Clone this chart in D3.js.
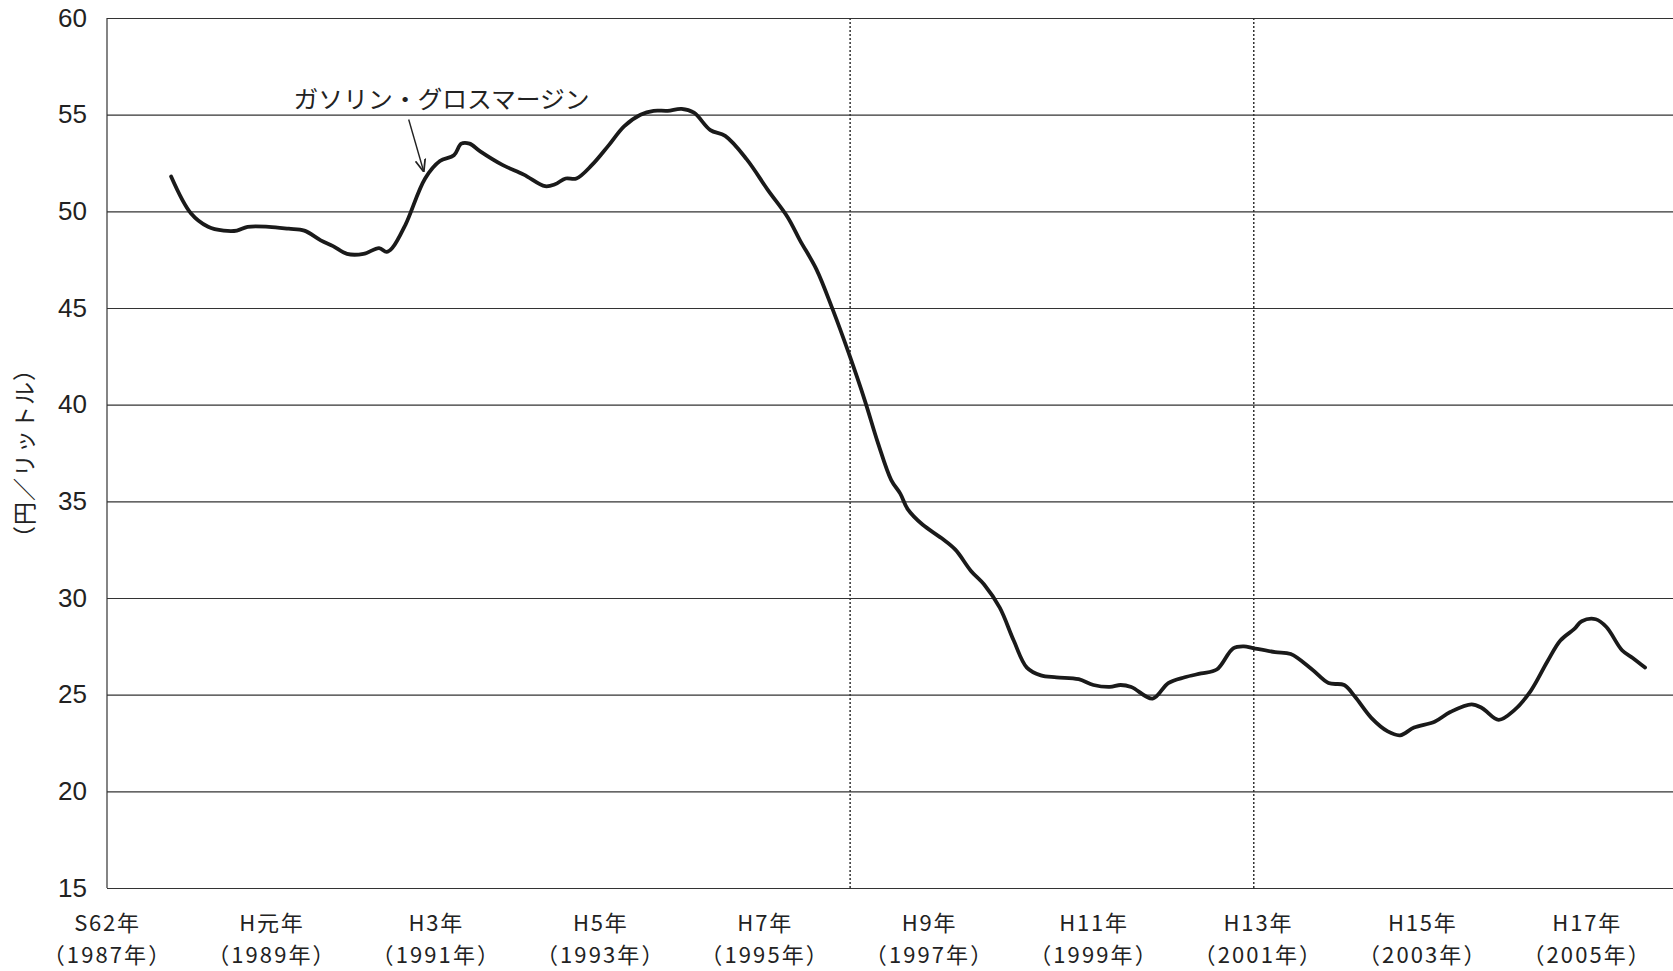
<!DOCTYPE html>
<html>
<head>
<meta charset="utf-8">
<script src="https://cdn.jsdelivr.net/npm/d3@7"></script>
<style>
  body { margin: 0; background: #fff; }
  svg { display: block; }
</style>
</head>
<body>
<div id="chart"></div>
<script>
// gasoline gross margin (fractional year, yen/litre)
const years = [1987.78, 1988.02, 1988.23, 1988.42, 1988.58, 1988.71, 1988.97, 1989.21, 1989.40, 1989.60,
  1989.75, 1989.92, 1990.12, 1990.31, 1990.40, 1990.47, 1990.63, 1990.87, 1991.05, 1991.22,
  1991.31, 1991.41, 1991.54, 1991.81, 1992.07, 1992.33, 1992.45, 1992.58, 1992.71, 1992.90,
  1993.10, 1993.29, 1993.49, 1993.65, 1993.82, 1993.99, 1994.14, 1994.34, 1994.52, 1994.78,
  1995.04, 1995.28, 1995.43, 1995.63, 1995.83, 1996.02, 1996.22, 1996.38, 1996.54, 1996.65,
  1996.74, 1996.92, 1997.15, 1997.32, 1997.51, 1997.67, 1997.86, 1998.03, 1998.19, 1998.36,
  1998.55, 1998.82, 1999.00, 1999.20, 1999.33, 1999.46, 1999.72, 1999.91, 2000.11, 2000.31,
  2000.50, 2000.70, 2000.83, 2000.95, 2001.21, 2001.40, 2001.66, 2001.86, 2002.05, 2002.18,
  2002.38, 2002.58, 2002.73, 2002.90, 2003.15, 2003.34, 2003.60, 2003.73, 2003.93, 2004.12,
  2004.32, 2004.52, 2004.68, 2004.85, 2004.94, 2005.11, 2005.24, 2005.43, 2005.56, 2005.71];
const margin = [51.8, 49.9, 49.2, 49.0, 49.0, 49.2, 49.2, 49.1, 49.0, 48.5,
  48.2, 47.8, 47.8, 48.1, 47.9, 48.1, 49.3, 51.7, 52.6, 52.9,
  53.5, 53.5, 53.1, 52.4, 51.9, 51.3, 51.4, 51.7, 51.7, 52.4,
  53.4, 54.4, 55.0, 55.2, 55.2, 55.3, 55.1, 54.2, 53.9, 52.7,
  51.1, 49.7, 48.5, 47.0, 44.9, 42.7, 40.2, 38.0, 36.1, 35.4,
  34.6, 33.8, 33.1, 32.5, 31.4, 30.7, 29.5, 27.8, 26.4, 26.0,
  25.9, 25.8, 25.5, 25.4, 25.5, 25.4, 24.8, 25.6, 25.9, 26.1,
  26.3, 27.4, 27.5, 27.4, 27.2, 27.1, 26.3, 25.6, 25.5, 24.9,
  23.8, 23.1, 22.9, 23.3, 23.6, 24.1, 24.5, 24.3, 23.7, 24.2,
  25.2, 26.7, 27.8, 28.4, 28.8, 28.9, 28.5, 27.3, 26.9, 26.4];

const yTicks = [15, 20, 25, 30, 35, 40, 45, 50, 55, 60];
const xTicks = [1987, 1989, 1991, 1993, 1995, 1997, 1999, 2001, 2003, 2005];
const xLabelEra = ["S62年", "H元年", "H3年", "H5年", "H7年", "H9年", "H11年", "H13年", "H15年", "H17年"];
const xLabelYear = ["（1987年）", "（1989年）", "（1991年）", "（1993年）", "（1995年）",
  "（1997年）", "（1999年）", "（2001年）", "（2003年）", "（2005年）"];
const markerYears = [1996.04, 2000.95];

const seriesLabel = "ガソリン・グロスマージン";
const labelAt = [1989.27, 55.7];
const arrowFrom = [1990.67, 54.75];
const arrowTo = [1990.85, 52.1];
const yTitle = "（円／リットル）";

const W = 1673, H = 971;
const m = {top: 18, right: 0, bottom: 83, left: 107};

const svg = d3.select("#chart").append("svg")
  .attr("width", W)
  .attr("height", H);

const x = d3.scaleLinear().domain([1987, 2006.05]).range([m.left, W - m.right]);
const y = d3.scaleLinear().domain([15, 60]).range([H - m.bottom, m.top]);

// horizontal grid + y labels
const yAxis = svg.append("g")
  .attr("transform", `translate(${m.left},0)`)
  .call(d3.axisLeft(y).tickValues(yTicks).tickSize(-(W - m.left - m.right)).tickPadding(20));
yAxis.select(".domain").remove();
yAxis.selectAll(".tick line").attr("stroke", "#333").attr("stroke-width", 1.2);
yAxis.selectAll(".tick text")
  .attr("fill", "#222")
  .style("font-family", "'Liberation Sans', Arial, sans-serif")
  .style("font-size", "26px");

// left frame
svg.append("line")
  .attr("x1", x(1987)).attr("x2", x(1987))
  .attr("y1", y(60)).attr("y2", y(15))
  .attr("stroke", "#333").attr("stroke-width", 1.2);

// dotted period markers
svg.selectAll(".marker").data(markerYears).join("line")
  .attr("class", "marker")
  .attr("x1", d => x(d)).attr("x2", d => x(d))
  .attr("y1", y(60)).attr("y2", y(15))
  .attr("stroke", "#333")
  .attr("stroke-width", 1.5)
  .attr("stroke-dasharray", "2,2");

// x labels, two lines each
const xAxis = svg.append("g")
  .attr("transform", `translate(0,${H - m.bottom})`)
  .call(d3.axisBottom(x).tickValues(xTicks).tickSize(0).tickFormat(""));
xAxis.select(".domain").remove();
xAxis.selectAll(".tick").each(function (d, i) {
  const g = d3.select(this);
  g.append("text")
    .attr("class", "era")
    .attr("y", 43)
    .attr("fill", "#222")
    .attr("text-anchor", "middle")
    .style("font-family", "'Noto Sans CJK JP', sans-serif")
    .style("font-size", "22px")
    .style("letter-spacing", "1.8px")
    .text(xLabelEra[i]);
  g.append("text")
    .attr("class", "yr")
    .attr("y", 75)
    .attr("fill", "#222")
    .attr("text-anchor", "middle")
    .style("font-family", "'Noto Sans CJK JP', sans-serif")
    .style("font-size", "22px")
    .style("letter-spacing", "2.1px")
    .text(xLabelYear[i]);
});

// y title
svg.append("text")
  .attr("transform", `translate(27,${(y(40) + y(35)) / 2}) rotate(-90)`)
  .attr("text-anchor", "middle")
  .attr("dominant-baseline", "middle")
  .attr("fill", "#222")
  .style("font-family", "'Noto Sans CJK JP', sans-serif")
  .style("font-size", "23px")
  .style("letter-spacing", "1px")
  .text(yTitle);

// the series
const pts = years.map((d, i) => [d, margin[i]]);
const line = d3.line()
  .x(d => x(d[0]))
  .y(d => y(d[1]))
  .curve(d3.curveCatmullRom.alpha(0.5));

svg.append("path")
  .datum(pts)
  .attr("fill", "none")
  .attr("stroke", "#1a1a1a")
  .attr("stroke-width", 3.8)
  .attr("stroke-linejoin", "round")
  .attr("stroke-linecap", "round")
  .attr("d", line);

// annotation
svg.append("defs").append("marker")
  .attr("id", "arrow")
  .attr("viewBox", "0 0 10 10")
  .attr("refX", 9).attr("refY", 5)
  .attr("markerWidth", 9).attr("markerHeight", 9)
  .attr("orient", "auto")
  .append("path")
  .attr("d", "M0,1 L10,5 L0,9")
  .attr("fill", "none")
  .attr("stroke", "#222")
  .attr("stroke-width", 1.4);

svg.append("line")
  .attr("x1", x(arrowFrom[0])).attr("y1", y(arrowFrom[1]))
  .attr("x2", x(arrowTo[0])).attr("y2", y(arrowTo[1]))
  .attr("stroke", "#222")
  .attr("stroke-width", 1.4)
  .attr("marker-end", "url(#arrow)");

svg.append("text")
  .attr("x", x(labelAt[0]))
  .attr("y", y(labelAt[1]))
  .attr("dominant-baseline", "middle")
  .attr("textLength", 296)
  .attr("lengthAdjust", "spacingAndGlyphs")
  .attr("fill", "#222")
  .style("font-family", "'Noto Sans CJK JP', sans-serif")
  .style("font-size", "24px")
  .text(seriesLabel);
</script>
</body>
</html>
